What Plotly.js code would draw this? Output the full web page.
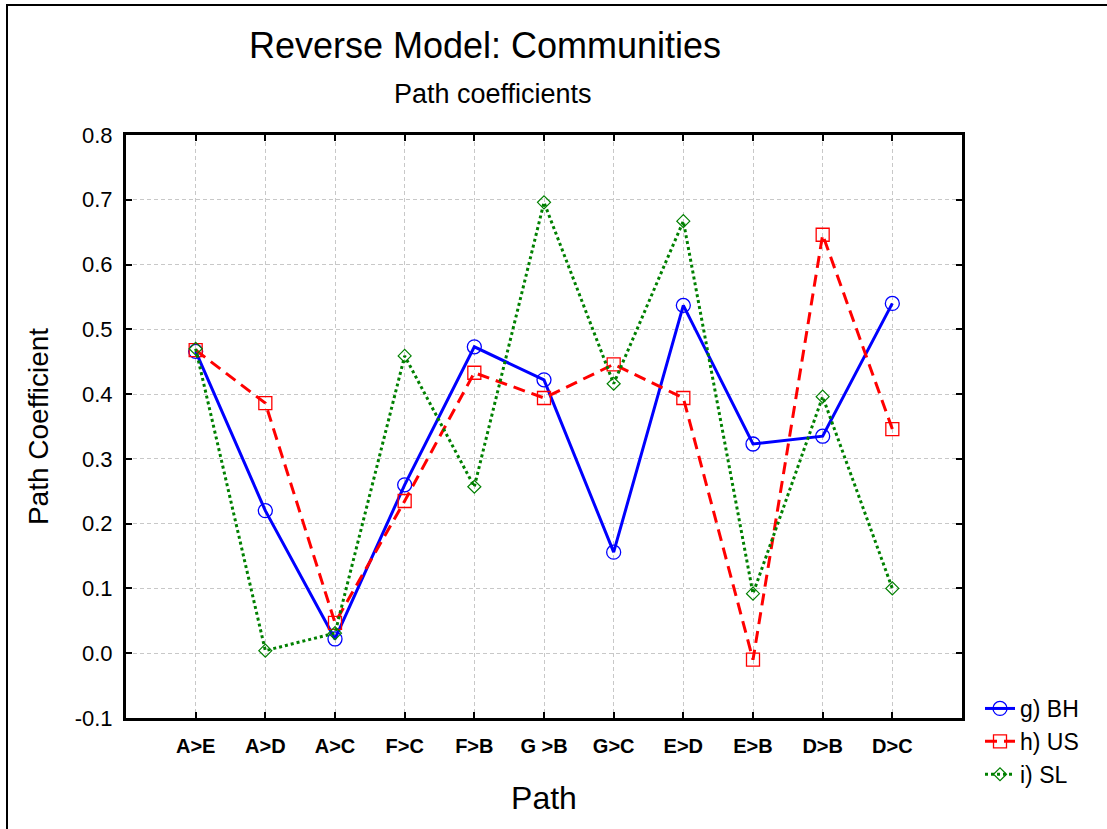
<!DOCTYPE html>
<html>
<head>
<meta charset="utf-8">
<script src="https://cdn.plot.ly/plotly-3.0.1.min.js"></script>
<style>
  html, body { margin: 0; padding: 0; background: #fff; }
  #wrap { position: relative; width: 1107px; height: 829px; overflow: hidden; }
  #frame { position: absolute; left: 6px; top: 4px; width: 1200px; height: 900px; border-left: 2px solid #000; border-top: 2px solid #000; pointer-events: none; z-index: 5; }
  #chart { position: absolute; left: 0; top: 0; width: 1107px; height: 829px; }
</style>
</head>
<body>
<div id="wrap">
  <div id="chart"></div>
  <div id="frame"></div>
</div>
<script>
const paths = ["A>E", "A>D", "A>C", "F>C", "F>B", "G >B", "G>C", "E>D", "E>B", "D>B", "D>C"];
const bhValues = [0.466, 0.220, 0.022, 0.260, 0.473, 0.422, 0.156, 0.537, 0.323, 0.335, 0.540];
const usValues = [0.468, 0.386, 0.047, 0.235, 0.433, 0.394, 0.446, 0.394, -0.010, 0.646, 0.346];
const slValues = [0.470, 0.004, 0.031, 0.459, 0.257, 0.696, 0.416, 0.667, 0.092, 0.396, 0.100];
const yTicks = [-0.1, 0.0, 0.1, 0.2, 0.3, 0.4, 0.5, 0.6, 0.7, 0.8];
const yTickText = ["-0.1", "0.0", "0.1", "0.2", "0.3", "0.4", "0.5", "0.6", "0.7", "0.8"];

const xIdx = paths.map((_, i) => i);

const traces = [
  {
    x: xIdx, y: bhValues, name: "g) BH", type: "scatter", mode: "lines+markers",
    line: {color: "#0000ff", width: 3, dash: "solid"},
    marker: {symbol: "circle-open", size: 14, color: "#0000ff", line: {width: 1.3, color: "#0000ff"}}
  },
  {
    x: xIdx, y: usValues, name: "h) US", type: "scatter", mode: "lines+markers",
    line: {color: "#ff0000", width: 3, dash: "12px,7px"},
    marker: {symbol: "square-open", size: 13, color: "#ff0000", line: {width: 1.3, color: "#ff0000"}}
  },
  {
    x: xIdx, y: slValues, name: "i) SL", type: "scatter", mode: "lines+markers",
    line: {color: "#008000", width: 3, dash: "3px,3px"},
    marker: {symbol: "diamond-open", size: 10, color: "#008000", line: {width: 1.2, color: "#008000"}}
  }
];

const layout = {
  width: 1107, height: 829,
  margin: {l: 126, r: 145, t: 135, b: 111, pad: 0},
  paper_bgcolor: "#ffffff", plot_bgcolor: "#ffffff",
  font: {family: "Arial, 'Liberation Sans', sans-serif", color: "#000"},
  showlegend: true,
  title: {
    text: "Reverse Model: Communities",
    font: {size: 36, color: "#000"},
    xref: "container", x: 485 / 1107, xanchor: "center",
    yref: "container", y: 1 - 45/829, yanchor: "middle"
  },
  annotations: [{
    text: "Path coefficients", showarrow: false,
    xref: "paper", yref: "paper", x: (493 - 126) / 836, y: (718 - 94) / 583,
    xanchor: "center", yanchor: "middle", font: {size: 27, color: "#000"}
  }],
  xaxis: {
    range: [-1, 11],
    tickmode: "array", tickvals: xIdx, ticktext: paths,
    tickfont: {size: 20, color: "#000", family: "Arial, 'Liberation Sans', sans-serif", weight: "bold"},
    ticks: "inside", ticklen: 6, tickwidth: 2, tickcolor: "#000",
    ticklabelstandoff: 8,
    showline: true, linecolor: "#000", linewidth: 3, mirror: "ticks",
    showgrid: true, gridcolor: "#c8c8c8", griddash: "4px,3px", gridwidth: 1,
    zeroline: false,
    title: {text: "Path", font: {size: 32, color: "#000"}, standoff: 31}
  },
  yaxis: {
    range: [-0.1, 0.8],
    tickmode: "array", tickvals: yTicks, ticktext: yTickText,
    tickfont: {size: 22, color: "#000"},
    ticks: "inside", ticklen: 6, tickwidth: 2, tickcolor: "#000",
    ticklabelstandoff: 6,
    showline: true, linecolor: "#000", linewidth: 3, mirror: "ticks",
    showgrid: true, gridcolor: "#c8c8c8", griddash: "4px,3px", gridwidth: 1,
    zeroline: false,
    title: {text: "Path Coefficient", font: {size: 28, color: "#000"}, standoff: 18}
  },
  legend: {
    x: (980 - 126) / 836, xanchor: "left",
    y: (718 - 687) / 583, yanchor: "top",
    font: {size: 23, color: "#000"},
    bgcolor: "rgba(0,0,0,0)", borderwidth: 0,
    tracegroupgap: 0
  }
};

Plotly.newPlot("chart", traces, layout, {displayModeBar: false, staticPlot: true});
</script>
</body>
</html>
